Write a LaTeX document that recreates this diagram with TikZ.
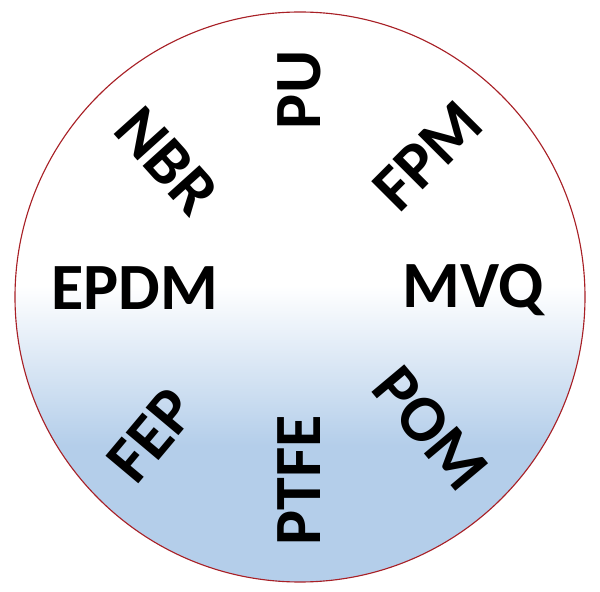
\documentclass[tikz,border=0pt]{standalone}
\usepackage{fontspec}
\setmainfont{Carlito}
\usepackage{tikz}
\usetikzlibrary{positioning}

\definecolor{rimred}{RGB}{168,32,38}
\definecolor{paleblue}{RGB}{180,206,234}
\pgfdeclareverticalshading{discshade}{100bp}{color(0bp)=(paleblue); color(37bp)=(paleblue); color(51bp)=(white); color(100bp)=(white)}

\begin{document}
\begin{tikzpicture}[scale=1,
        polymer/.style={inner sep=0pt, text height=29.7pt, text depth=0pt,
            font=\fontsize{47}{52}\selectfont\bfseries}]
        \useasboundingbox (0,0) rectangle (15,14.8);

        % disc
        \node (disc) at (7.5,7.375) [shape=circle, draw=rimred, line width=0.8pt,
            shading=discshade, minimum size=14.25cm, inner sep=0pt] {};

        % materials, clockwise from top
        \node (pu)   at (7.5,12.55)    [polymer, rotate=90]  {PU};
        \node (fpm)  at (10.7,10.9)    [polymer, rotate=45]  {FPM};
        \node (mvq)  at (11.825,7.625) [polymer]             {MVQ};
        \node (pom)  at (10.75,4.075)  [polymer, rotate=-50] {POM};
        \node (ptfe) at (7.5,2.8)      [polymer, rotate=90]  {PTFE};
        \node (fep)  at (3.8,3.9)      [polymer, rotate=50]  {FEP};
        \node (epdm) at (3.375,7.575)  [polymer]             {EPDM};
        \node (nbr)  at (4.15,10.775)  [polymer, rotate=-48] {NBR};
    \end{tikzpicture}
\end{document}
